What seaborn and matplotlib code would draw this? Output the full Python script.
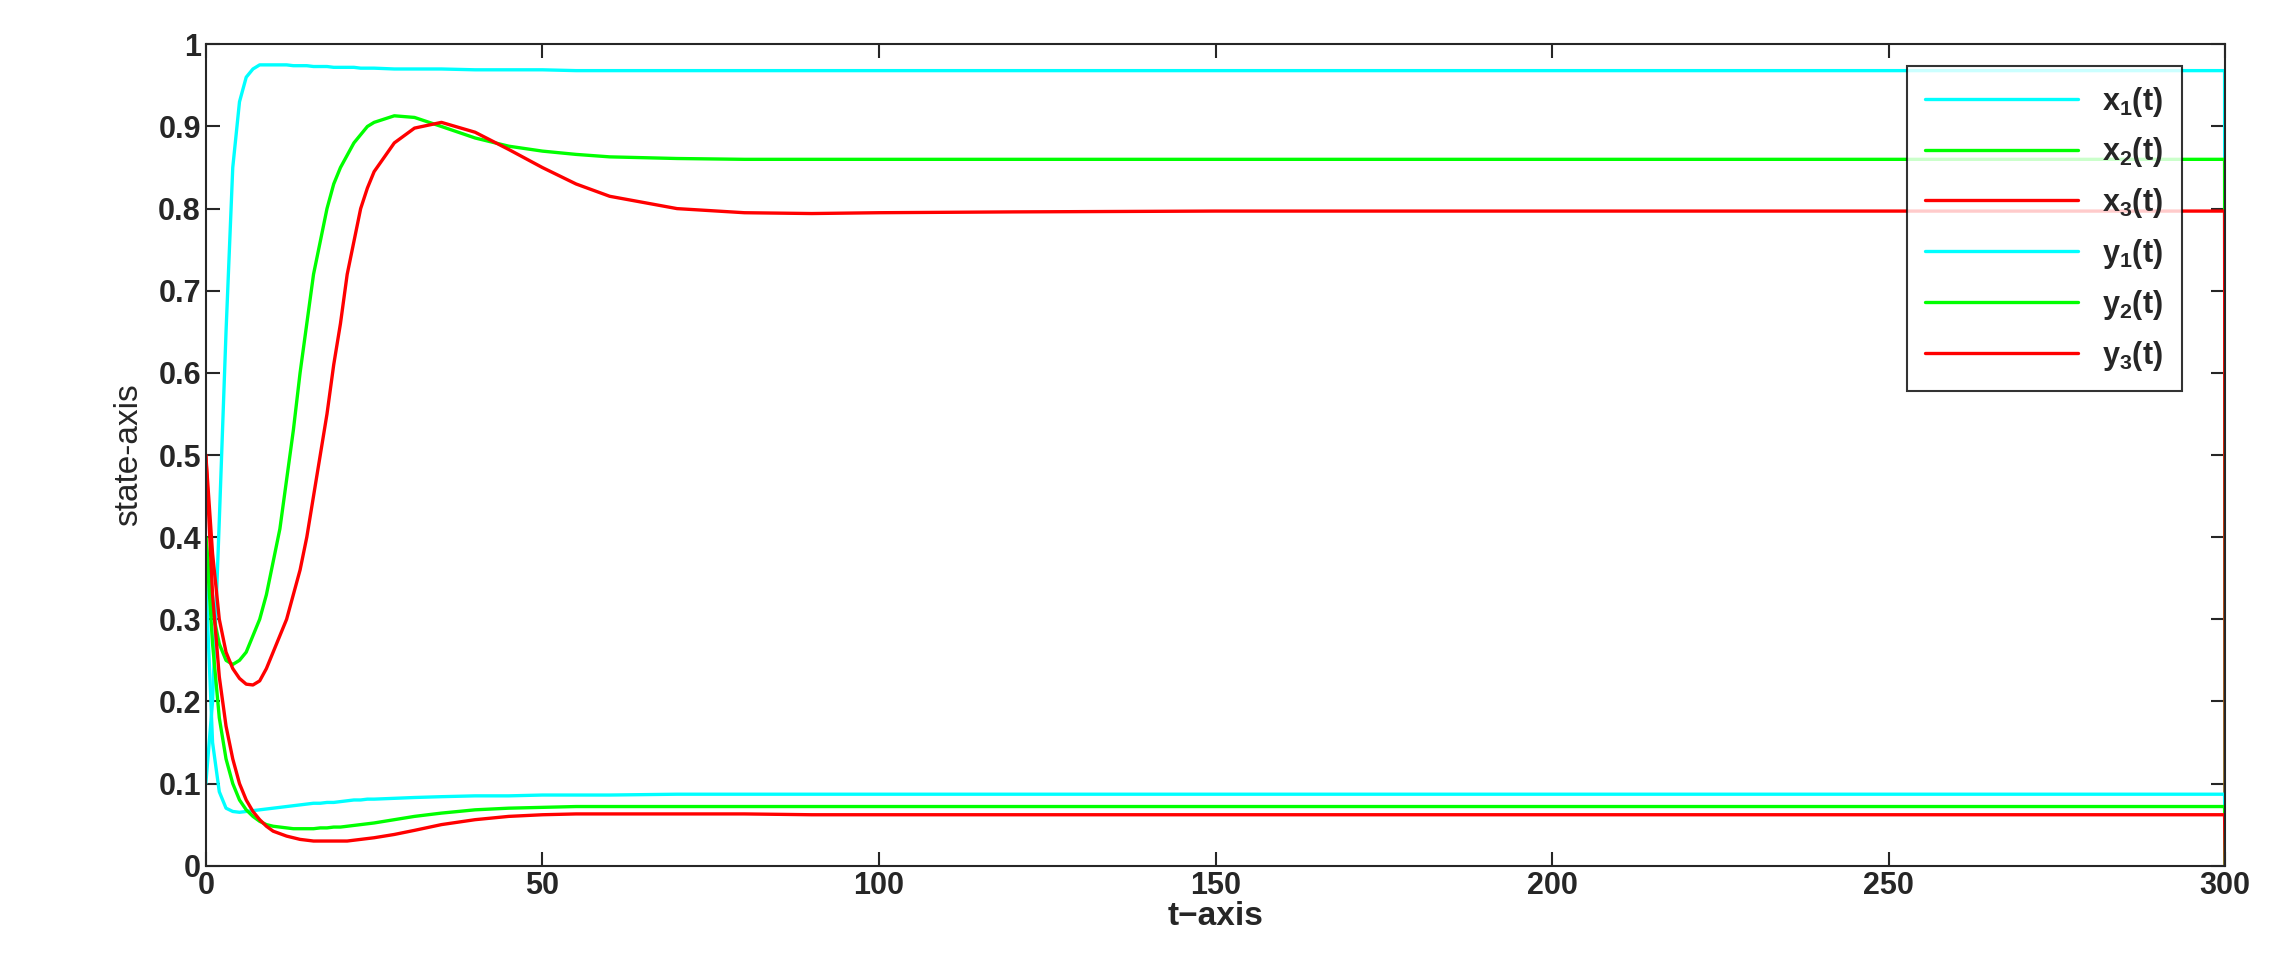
import matplotlib
matplotlib.use("Agg")
import matplotlib.pyplot as plt
import seaborn as sns
import pandas as pd

t = list(range(26)) + [28, 31, 35, 40, 45, 50, 55] + [60, 70, 80, 90, 100, 120, 150, 200, 250, 299.9] + [300]
x1 = [0.10, 0.20, 0.42, 0.65, 0.85, 0.93, 0.96, 0.97, 0.975, 0.975, 0.975, 0.975, 0.975, 0.974, 0.974, 0.974, 0.973, 0.973, 0.973, 0.972, 0.972, 0.972, 0.972, 0.971, 0.971, 0.971,
      0.970, 0.970, 0.970, 0.969, 0.969, 0.969, 0.968] + [0.968] * 10 + [0.0]
x2 = [0.40, 0.31, 0.27, 0.25, 0.245, 0.25, 0.26, 0.28, 0.30, 0.33, 0.37, 0.41, 0.47, 0.53, 0.60, 0.66, 0.72, 0.76, 0.80, 0.83, 0.85, 0.865, 0.88, 0.89, 0.90, 0.905,
      0.913, 0.911, 0.900, 0.886, 0.876, 0.870, 0.866, 0.863, 0.861] + [0.860] * 8 + [0.0]
x3 = [0.50, 0.38, 0.30, 0.26, 0.24, 0.228, 0.221, 0.22, 0.225, 0.24, 0.26, 0.28, 0.30, 0.33, 0.36, 0.40, 0.45, 0.50, 0.55, 0.61, 0.66, 0.72, 0.76, 0.80, 0.825, 0.845,
      0.88, 0.898, 0.905, 0.893, 0.872, 0.850, 0.830, 0.815, 0.800, 0.795, 0.794, 0.795, 0.796, 0.797, 0.797, 0.797, 0.797, 0.0]
y1 = [0.35, 0.15, 0.09, 0.07, 0.066, 0.065, 0.066, 0.067, 0.068, 0.069, 0.070, 0.071, 0.072, 0.073, 0.074, 0.075, 0.076, 0.076, 0.077, 0.077, 0.078, 0.079, 0.080, 0.080, 0.081, 0.081,
      0.082, 0.083, 0.084, 0.085, 0.085, 0.086, 0.086, 0.086] + [0.087] * 9 + [0.0]
y2 = [0.40, 0.27, 0.18, 0.13, 0.10, 0.08, 0.068, 0.060, 0.054, 0.050, 0.048, 0.047, 0.046, 0.045, 0.045, 0.045, 0.045, 0.046, 0.046, 0.047, 0.047, 0.048, 0.049, 0.050, 0.051, 0.052,
      0.056, 0.060, 0.064, 0.068, 0.070, 0.071, 0.072] + [0.072] * 10 + [0.0]
y3 = [0.50, 0.33, 0.23, 0.17, 0.13, 0.10, 0.08, 0.066, 0.056, 0.048, 0.042, 0.039, 0.036, 0.034, 0.032, 0.031, 0.030, 0.030, 0.030, 0.030, 0.030, 0.030, 0.031, 0.032, 0.033, 0.034,
      0.038, 0.043, 0.050, 0.056, 0.060, 0.062, 0.063, 0.063, 0.063, 0.063] + [0.062] * 7 + [0.0]

series = [("$\\mathbf{x_1(t)}$", x1, "#00FFFF"), ("$\\mathbf{x_2(t)}$", x2, "#00FF00"),
          ("$\\mathbf{x_3(t)}$", x3, "#FF0000"), ("$\\mathbf{y_1(t)}$", y1, "#00FFFF"),
          ("$\\mathbf{y_2(t)}$", y2, "#00FF00"), ("$\\mathbf{y_3(t)}$", y3, "#FF0000")]

sns.set_style("ticks")
plt.rcParams['font.family'] = ['Liberation Sans', 'DejaVu Sans']
plt.rcParams['mathtext.fontset'] = 'custom'
plt.rcParams['mathtext.bf'] = 'Liberation Sans:bold'
plt.rcParams['mathtext.rm'] = 'Liberation Sans'

fig = plt.figure(figsize=(22.87, 9.64), dpi=100)
ax = fig.add_axes([0.09, 0.102, 0.883, 0.852])
for lab, vals, col in series:
    df = pd.DataFrame({"t": t, "v": vals})
    sns.lineplot(data=df, x="t", y="v", ax=ax, color=col, lw=2.4, label=lab, estimator=None)

ax.set_xlim(0, 300)
ax.set_ylim(0, 1)
ax.set_xticks([0, 50, 100, 150, 200, 250, 300])
ax.set_yticks([i / 10 for i in range(11)])
ax.set_yticklabels(["0"] + [f"0.{i}" for i in range(1, 10)] + ["1"])
ax.tick_params(direction="in", length=10, width=1.5, labelsize=22, top=True, right=True)
for lb in ax.get_xticklabels() + ax.get_yticklabels():
    lb.set_fontweight("bold")
for s in ax.spines.values():
    s.set_linewidth(1.5)
ax.set_xlabel("t\u2212axis", fontsize=24, fontweight="bold", labelpad=0)
ax.set_ylabel("state-axis", fontsize=24, labelpad=10)
leg = ax.legend(loc="upper right", bbox_to_anchor=(0.986, 0.992), fontsize=22, frameon=True,
                fancybox=False, edgecolor="black", handlelength=5, labelspacing=0.55,
                borderpad=0.6)
leg.get_frame().set_linewidth(1.5)
fig.savefig("out.png", dpi=100, facecolor="white")
